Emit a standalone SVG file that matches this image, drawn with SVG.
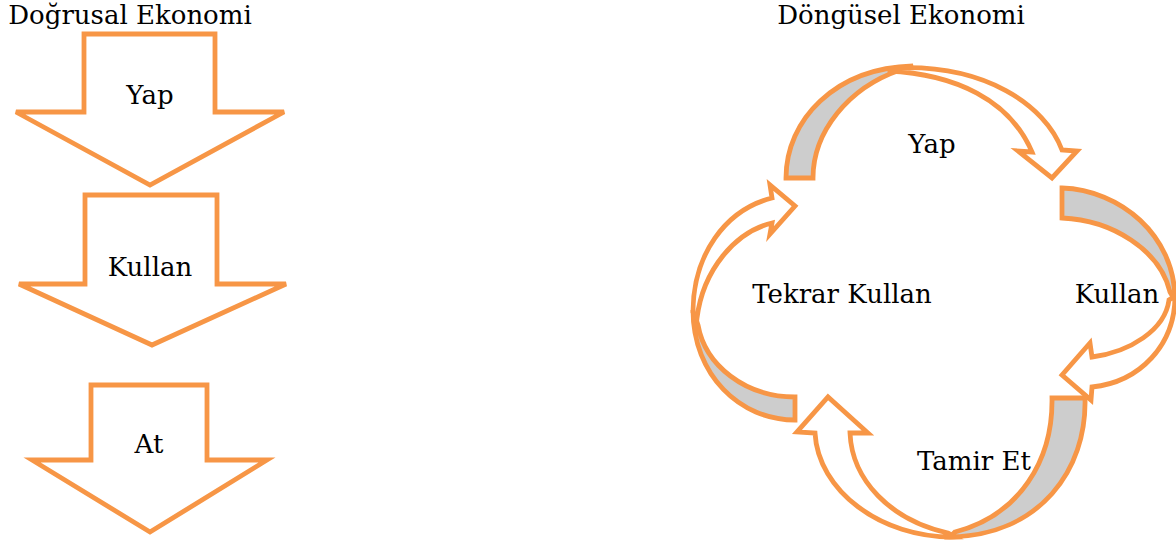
<svg xmlns="http://www.w3.org/2000/svg" width="1176" height="542" viewBox="0 0 1176 542">
<style>
.s{fill:#fff;stroke:#F79646;stroke-width:4.8;stroke-linejoin:miter}
.g{fill:#CDCDCD;stroke:#F79646;stroke-width:4.8;stroke-linejoin:miter}
.t{font-family:"DejaVu Serif","Liberation Serif",serif;font-size:26px;fill:#000;text-anchor:middle}
</style>
<rect width="1176" height="542" fill="#fff"/>
<g id="title-linear"><text class="t" x="130" y="24">Doğrusal Ekonomi</text></g>
<g id="title-circular"><text class="t" x="901" y="24">Döngüsel Ekonomi</text></g>
<g id="lin-yap">
<path class="s" d="M84,34 L215,34 L215,112 L284,112 L150,185 L16,112 L84,112 Z"/>
<text class="t" x="150" y="104">Yap</text>
</g>
<g id="lin-kullan">
<path class="s" d="M85,195 L217,195 L217,284 L286,284 L152,345 L19,284 L85,284 Z"/>
<text class="t" x="150" y="276">Kullan</text>
</g>
<g id="lin-at">
<path class="s" d="M91,385 L207,385 L207,460 L267,460 L150,532 L32,460 L91,460 Z"/>
<text class="t" x="149" y="453">At</text>
</g>
<g id="connectors">
<g id="arc-top">
<path class="g" d="M786,178 L813,178 C813,132 848,88 900,70 L913,66 C835,68 786,120 786,178 Z"/>
<path class="s" d="M895,68 C985,64 1045,105 1062,150 L1077,151 L1052,178 L1018,151 L1032,152 C1010,100 955,74 888,71 Z"/>
</g>
<g id="arc-right">
<path class="g" d="M1062,188 C1120,190 1175,235 1175,300 L1170,292 C1160,250 1112,220 1062,218 Z"/>
<path class="s" d="M1175,296 C1175,345 1140,382 1092,387 L1091,400 L1062,375 L1090,343 L1092,357 C1130,352 1165,330 1169,300 Z"/>
</g>
<g id="arc-bottom">
<path class="g" d="M1085,398 C1087,470 1040,535 950,537 L955,532 C1020,515 1053,460 1052,398 Z"/>
<path class="s" d="M955,537 C880,538 818,490 815,433 L797,432 L828,397 L868,433 L850,433 C852,480 890,520 948,533 Z"/>
</g>
<g id="arc-left">
<path class="g" d="M795,420 C740,420 693,375 693,310 L698,325 C705,365 745,397 795,397 Z"/>
<path class="s" d="M693,312 C693,255 725,210 772,198 L770,185 L795,206 L770,234 L772,223 C735,232 703,270 697,318 Z"/>
</g>
</g>
<g id="node-yap"><text class="t" x="932" y="153">Yap</text></g>
<g id="node-kullan"><text class="t" x="1117" y="303">Kullan</text></g>
<g id="node-tekrar"><text class="t" x="842" y="303">Tekrar Kullan</text></g>
<g id="node-tamir"><text class="t" x="974" y="470">Tamir Et</text></g>
</svg>
